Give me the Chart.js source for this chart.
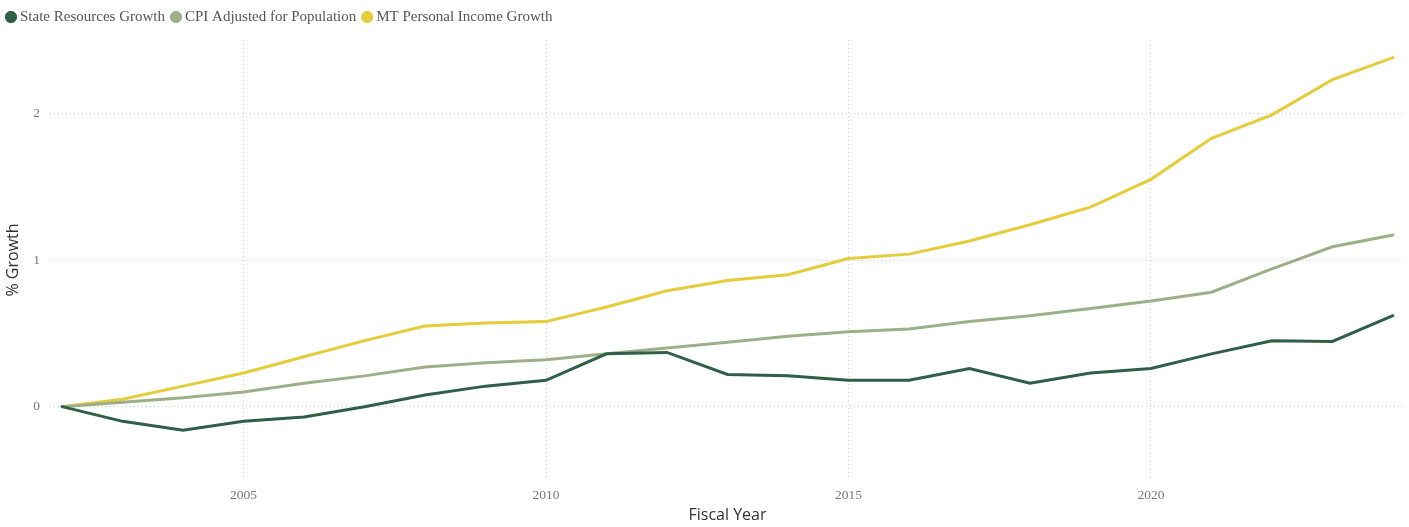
<!DOCTYPE html>
<html><head><meta charset="utf-8">
<script src="https://cdn.jsdelivr.net/npm/chart.js@4"></script>
<style>html,body{margin:0;padding:0;background:#fff}#wrap{width:1409px;height:527px;position:relative}</style>
</head><body><div id="wrap"><canvas id="c"></canvas></div>
<script>
const years = [2002,2003,2004,2005,2006,2007,2008,2009,2010,2011,2012,2013,2014,2015,2016,2017,2018,2019,2020,2021,2022,2023,2024];
const stateResources = [0,-0.10,-0.16,-0.10,-0.07,0.00,0.08,0.14,0.18,0.36,0.37,0.22,0.21,0.18,0.18,0.26,0.16,0.23,0.26,0.36,0.45,0.445,0.62];
const cpiPop = [0,0.03,0.06,0.10,0.16,0.21,0.27,0.30,0.32,0.36,0.40,0.44,0.48,0.51,0.53,0.58,0.62,0.67,0.72,0.78,0.94,1.09,1.17];
const mtIncome = [0,0.05,0.14,0.23,0.34,0.45,0.55,0.57,0.58,0.68,0.79,0.86,0.90,1.01,1.04,1.13,1.24,1.36,1.55,1.83,1.99,2.23,2.38];
const xTicks = [2005,2010,2015,2020];
const yTicks = [0,1,2];
const seriesNames = ["State Resources Growth","CPI Adjusted for Population","MT Personal Income Growth"];

const pts = arr => years.map((y,i)=>({x:y,y:arr[i]}));
const colors = ["#2f5f45","#9cb088","#e6cc3a"];
const grid = {color:"#cfcfcf", lineWidth:1, drawTicks:false};
const serif = '"Liberation Serif", "Times New Roman", serif';
const sans = '"Open Sans", sans-serif';

new Chart(document.getElementById('c'),{
  type:'line',
  data:{datasets:[
    {label:seriesNames[0],data:pts(stateResources),borderColor:colors[0],backgroundColor:colors[0]},
    {label:seriesNames[1],data:pts(cpiPop),borderColor:colors[1],backgroundColor:colors[1]},
    {label:seriesNames[2],data:pts(mtIncome),borderColor:colors[2],backgroundColor:colors[2]}
  ]},
  options:{
    responsive:true, maintainAspectRatio:false, animation:false,
    layout:{padding:{left:0,right:4,top:0,bottom:0}},
    elements:{line:{borderWidth:3,tension:0,borderCapStyle:'round'},point:{radius:0}},
    plugins:{
      legend:{position:'top',align:'start',
        labels:{usePointStyle:true,pointStyle:'circle',boxWidth:3,boxHeight:8,padding:9.5,color:'#555',
          font:{family:serif,size:15}}},
      tooltip:{enabled:false}
    },
    scales:{
      x:{type:'linear',min:2001.8,max:2024.2,
        afterBuildTicks:s=>{s.ticks=xTicks.map(v=>({value:v}));},
        afterFit:s=>{s.height=47;},
        border:{display:false,dash:[1,3]},
        grid:Object.assign({},grid),
        ticks:{color:'#777',padding:7,font:{family:serif,size:13.5},callback:v=>String(v)},
        title:{display:true,text:'Fiscal Year',color:'#333',padding:{top:0,bottom:1.5},font:{family:sans,size:16}}
      },
      y:{min:-0.5,max:2.5,
        afterBuildTicks:s=>{s.ticks=yTicks.map(v=>({value:v}));},
        afterFit:s=>{s.width=50;},
        border:{display:false,dash:[1,3]},
        grid:Object.assign({},grid),
        ticks:{color:'#777',padding:10,font:{family:serif,size:13.5},callback:v=>String(v)},
        title:{display:true,text:'% Growth',color:'#333',padding:{top:4,bottom:0},font:{family:sans,size:16}}
      }
    }
  },
  plugins:[{id:'legendH',beforeInit(chart){const f=chart.legend.fit;chart.legend.fit=function(){f.call(this);this.height=40;};}}]
});
</script></body></html>
